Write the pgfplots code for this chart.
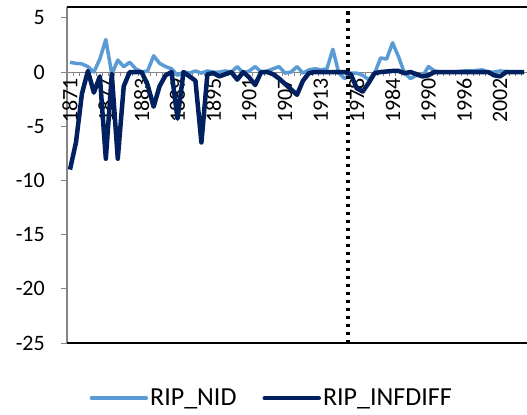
\documentclass[border=0pt]{standalone}
\usepackage{fontspec}
\setmainfont{Carlito}
\usepackage{pgfplots}
\usepackage{pgfplotstable}
\pgfplotsset{compat=1.18}
\definecolor{nid}{RGB}{91,155,213}
\definecolor{inf}{RGB}{0,32,96}
\definecolor{axgray}{RGB}{134,134,134}
\definecolor{rgray}{RGB}{217,217,217}
\pgfplotstableread{
i nid inf
0 0.9 -9.0
1 0.8 -6.5
2 0.75 -2.0
3 0.5 0.1
4 0.0 -1.9
5 1.2 -0.4
6 3.0 -8.0
7 -0.2 -0.2
8 1.1 -8.0
9 0.5 -1.3
10 0.9 0.0
11 0.3 0.0
12 0.0 0.0
13 0.1 -1.2
14 1.5 -3.2
15 0.8 -1.3
16 0.5 -0.3
17 0.3 0.0
18 -0.3 -4.3
19 0.0 0.0
20 -0.1 -0.4
21 0.1 -0.8
22 -0.1 -6.5
23 0.1 -0.2
24 0.0 -0.1
25 0.0 -0.4
26 0.1 -0.2
27 0.0 0.0
28 0.5 -0.7
29 -0.1 0.0
30 0.1 -0.5
31 0.5 -1.2
32 0.0 0.0
33 0.1 0.0
34 0.3 -0.2
35 0.5 -0.6
36 -0.1 -1.1
37 0.0 -1.6
38 0.5 -2.1
39 -0.1 -0.8
40 0.2 -0.1
41 0.3 0.0
42 0.2 0.0
43 0.3 0.0
44 2.1 0.0
45 -0.1 0.0
46 -0.6 0.0
47 -0.1 -0.2
48 -0.1 -1.5
49 -0.3 -1.8
50 -0.7 -1.0
51 -0.1 -0.1
52 1.3 0.0
53 1.2 0.05
54 2.7 0.1
55 1.4 0.1
56 -0.1 -0.1
57 -0.6 0.0
58 -0.3 -0.2
59 -0.4 -0.4
60 0.5 -0.3
61 0.1 0.0
62 0.0 0.0
63 0.0 0.0
64 0.0 0.0
65 0.05 0.0
66 0.1 0.0
67 0.1 0.0
68 0.15 0.0
69 0.2 0.0
70 0.0 0.0
71 0.0 -0.3
72 0.1 -0.4
73 0.05 0.0
74 0.0 0.0
75 0.0 0.0
76 0.0 0.0
}\data
\begin{document}
\begin{tikzpicture}[x=1bp,y=1bp]
\begin{axis}[
  at={(0,0)}, anchor=south west,
  width=460bp, height=336bp, scale only axis,
  xmin=-0.5, xmax=76.5, ymin=-25, ymax=6,
  clip=false,
  axis x line=middle, axis y line=left, axis line style={-},
  x axis line style={draw=axgray, line width=1bp},
  y axis line style={draw=axgray, line width=1.2bp},
  tick align=outside,
  major tick length=6bp, minor tick length=4bp,
  xtick={0,6,...,72},
  xticklabels={1871,1877,1883,1889,1895,1901,1907,1913,1978,1984,1990,1996,2002},
  minor xtick={-0.5,0.5,...,76.5},
  major x tick style={draw=none},
  minor x tick style={draw=axgray, line width=0.8bp},
  ytick={-25,-20,-15,-10,-5,0,5},
  yticklabels={-25,-20,-15,-10,-5,0,5},
  y tick style={draw=axgray, line width=1bp},
  tick label style={font=\fontsize{22bp}{26bp}\selectfont},
  xticklabel style={rotate=90, anchor=east, inner sep=0pt},
  yticklabel style={anchor=east, inner sep=0pt, xshift=-16bp},
  legend style={at={(axis description cs:0.445,-0.164)}, anchor=center,
    draw=none, fill=none, font=\fontsize{26bp}{30bp}\selectfont,
    /tikz/every even column/.append style={column sep=24bp}},
  legend columns=2,
  legend cell align=left,
  legend image code/.code={\draw[#1, line width=4.5bp, line cap=round] (0bp,0bp) -- (54bp,0bp);},
]
\addplot[nid, line width=3.5bp, line join=round] table[x=i, y=nid] {\data};
\addlegendentry{RIP\_NID}
\addplot[inf, line width=4.5bp, line join=round] table[x=i, y=inf] {\data};
\addlegendentry{RIP\_INFDIFF}
\draw[black, line width=1.6bp] (rel axis cs:0,1) -- (rel axis cs:1,1);
\draw[black, line width=1.6bp] (rel axis cs:0,0) -- (rel axis cs:1,0);
\draw[rgray, line width=1bp] (rel axis cs:1,0) -- (rel axis cs:1,1);
\draw[black, line width=3.5bp, dash pattern=on 3.5bp off 4.5bp] (axis cs:46.5,-25) -- (axis cs:46.5,6);
\end{axis}
\pgfresetboundingbox
\path (-67,-71) rectangle (460,343);
\end{tikzpicture}
\end{document}
